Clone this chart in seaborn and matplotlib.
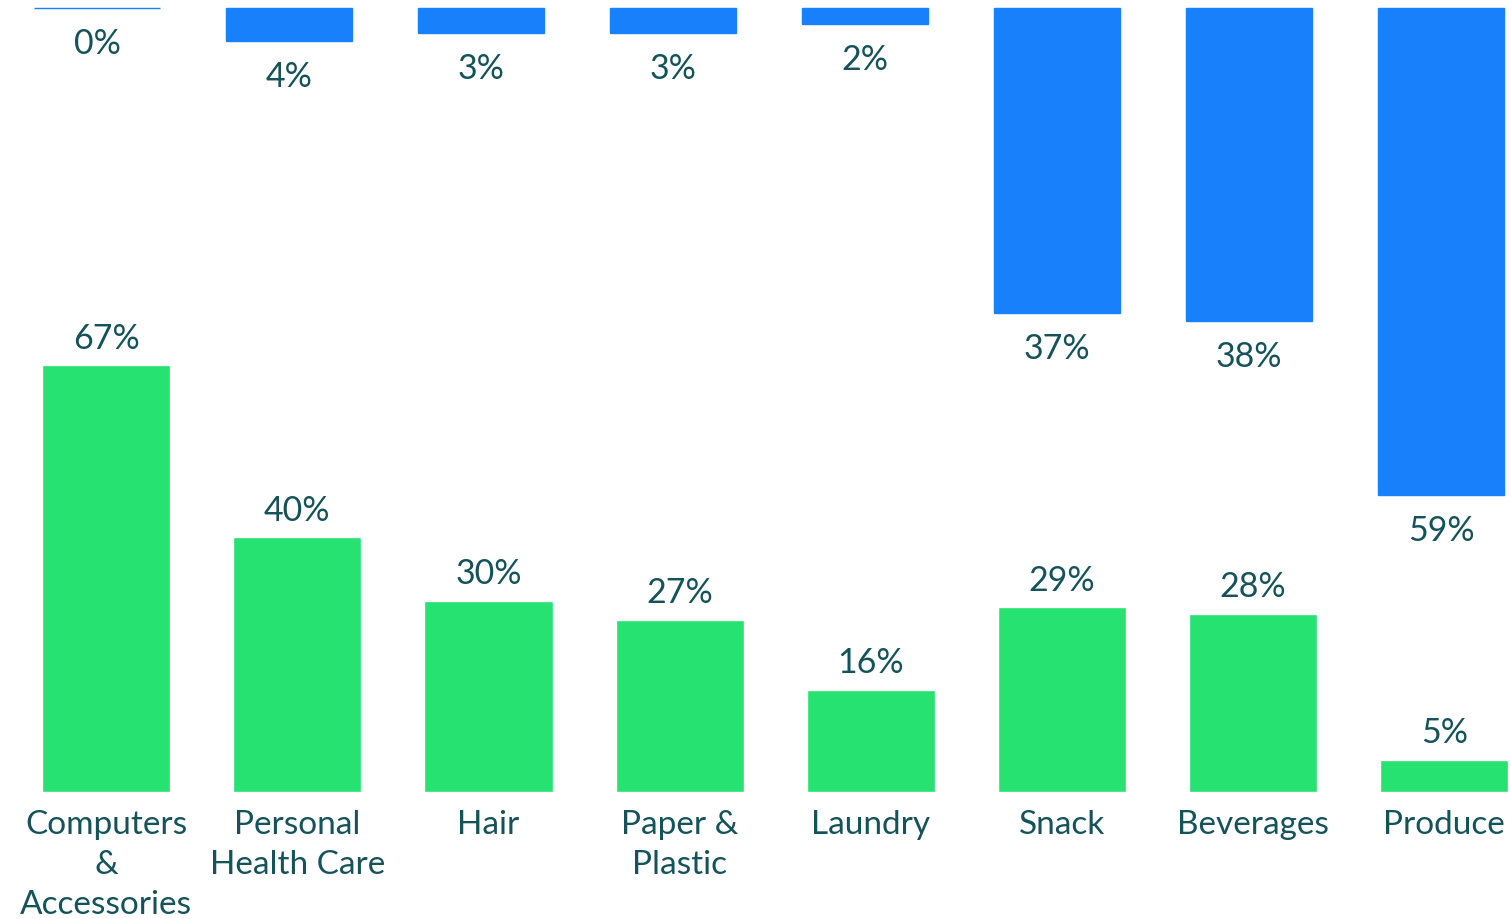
import matplotlib
matplotlib.use("Agg")
import matplotlib.pyplot as plt
import seaborn as sns
import pandas as pd

categories = ["Computers\n&\nAccessories", "Personal\nHealth Care", "Hair",
              "Paper &\nPlastic", "Laundry", "Snack", "Beverages", "Produce"]
top_values = [0, 4, 3, 3, 2, 37, 38, 59]
bottom_values = [67, 40, 30, 27, 16, 29, 28, 5]

BLUE = "#1880fb"
GREEN = "#26e271"
TEXT = "#15535a"
FONT = ["Lato", "DejaVu Sans"]

sns.set_theme(style="white")
plt.rcParams["font.family"] = FONT

df = pd.DataFrame({"category": categories, "top": top_values, "bottom": bottom_values})

W, H, DPI = 1511, 919, 100
fig = plt.figure(figsize=(W / DPI, H / DPI), dpi=DPI)
fig.patch.set_facecolor("white")

# Lower panel: bars rising from a common baseline
ax_b = fig.add_axes([0, 0, 1, 1])
sns.barplot(data=df, x="category", y="bottom", color=GREEN, width=0.67,
            saturation=1, ax=ax_b, order=categories)
b0, bstep = 106.2, 191.15
ax_b.set_xlim(-b0 / bstep, (W - b0) / bstep)
base_px, b_scale = 792, 6.37
ax_b.set_ylim(-(H - base_px) / b_scale, base_px / b_scale)
for i, v in enumerate(bottom_values):
    ax_b.annotate(f"{v}%", (i, v), xytext=(0, 12), textcoords="offset points",
                  ha="center", va="baseline", fontsize=24.5, color=TEXT)
# Category names under the baseline
for i, name in enumerate(categories):
    ax_b.annotate(name, (i, 0), xytext=(0, -13), textcoords="offset points",
                  ha="center", va="top", fontsize=24, color=TEXT,
                  linespacing=1.42)
ax_b.axis("off")
ax_b.patch.set_alpha(0)

# Upper panel: bars hanging from the top edge
ax_t = fig.add_axes([0, 0, 1, 1])
sns.barplot(data=df, x="category", y="top", color=BLUE, width=0.66,
            saturation=1, ax=ax_t, order=categories,
            edgecolor=BLUE, linewidth=1.0)
t0, tstep = 97, 192
ax_t.set_xlim(-t0 / tstep, (W - t0) / tstep)
top_px, t_scale = 8, 8.25
ax_t.set_ylim((H - top_px) / t_scale, -top_px / t_scale)
for i, v in enumerate(top_values):
    ax_t.annotate(f"{v}%", (i, v), xytext=(0, -33), textcoords="offset points",
                  ha="center", va="baseline", fontsize=24.5, color=TEXT)
ax_t.axis("off")
ax_t.patch.set_alpha(0)

fig.savefig("out.png", dpi=DPI, facecolor="white")
